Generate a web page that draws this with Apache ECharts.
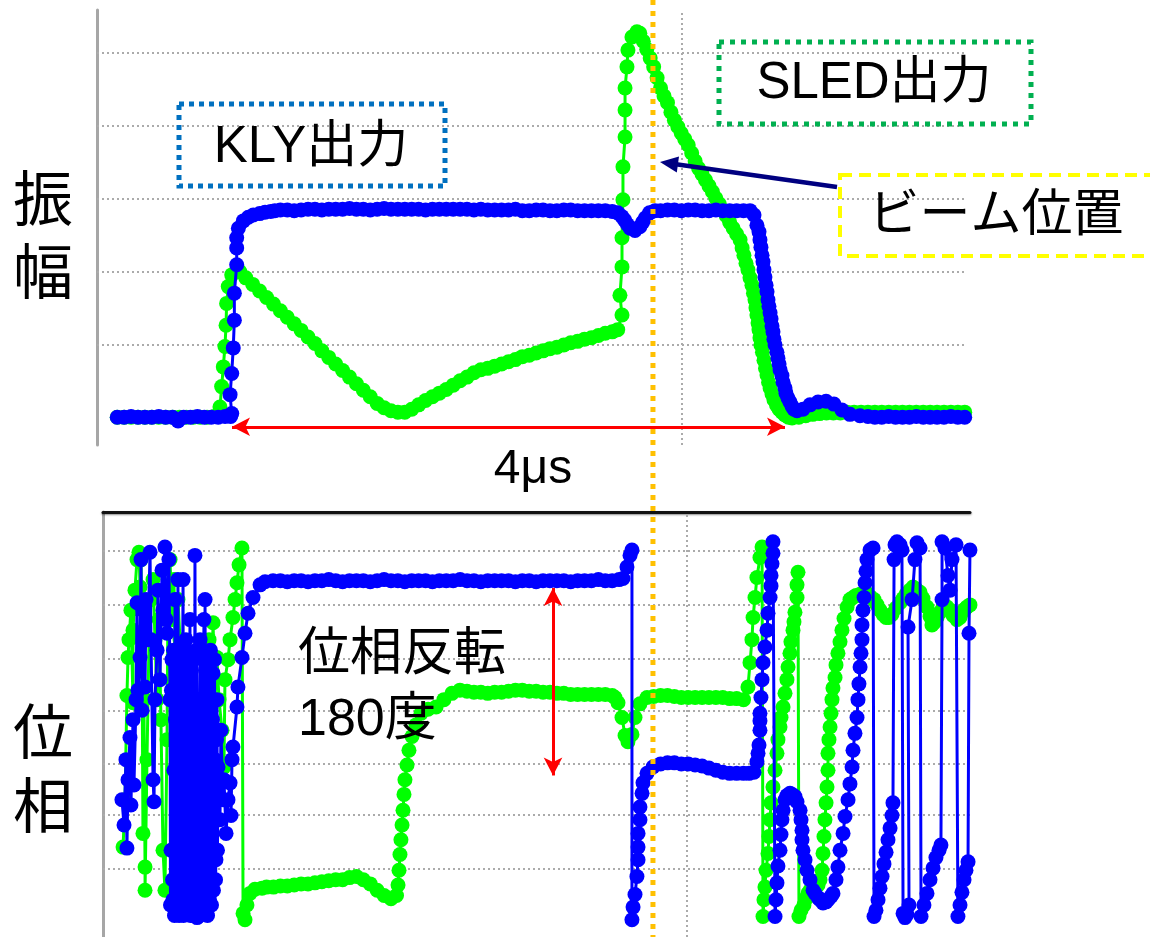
<!DOCTYPE html>
<html>
<head>
<meta charset="utf-8">
<script src="https://cdn.jsdelivr.net/npm/echarts/dist/echarts.min.js"></script>
<style>
  html, body { margin: 0; padding: 0; background: #ffffff; }
  #chart { width: 1150px; height: 937px; }
</style>
</head>
<body>
<div id="chart"></div>
<script>
// Time in microseconds (0 = start of the RF pulse), amplitude in scope divisions, phase in degrees.

// Klystron output amplitude
const klyAmp = [
  [-0.83,0.01],[-0.78,0.01],[-0.73,0.02],[-0.68,0.01],[-0.63,0.01],[-0.58,0.01],[-0.53,0.02],[-0.48,0.01],
  [-0.43,0.01],[-0.39,-0.04],[-0.35,0.01],[-0.30,0.01],[-0.25,0.02],[-0.20,0.01],[-0.15,0.01],[-0.10,0.01],
  [-0.05,0.02],[-0.01,0.02],
  [-0.002,0.06],[-0.014,0.32],[-0.002,0.61],[0.009,0.96],[0.017,1.34],[0.017,1.71],[0.034,2.10],[0.034,2.33],
  [0.034,2.47],[0.046,2.60],[0.082,2.70],[0.118,2.75],[0.154,2.78],[0.20,2.80],[0.239,2.82],[0.28,2.83],[0.31,2.84],
  [0.35,2.85],[0.40,2.85],[0.45,2.84],[0.50,2.85],[0.55,2.86],[0.60,2.86],[0.65,2.85],[0.70,2.86],[0.75,2.86],
  [0.80,2.86],[0.85,2.87],[0.90,2.86],[0.95,2.86],[1.00,2.85],[1.05,2.86],[1.10,2.87],[1.15,2.86],[1.20,2.86],
  [1.25,2.86],[1.30,2.86],[1.35,2.86],[1.40,2.85],[1.45,2.86],[1.50,2.86],[1.55,2.86],[1.60,2.86],[1.65,2.86],
  [1.70,2.86],[1.75,2.85],[1.80,2.86],[1.85,2.85],[1.90,2.85],[1.95,2.85],[2.00,2.85],[2.05,2.86],[2.10,2.84],
  [2.15,2.84],[2.20,2.85],[2.25,2.85],[2.30,2.84],[2.35,2.84],[2.40,2.85],[2.45,2.85],[2.50,2.84],[2.55,2.84],
  [2.60,2.84],[2.65,2.84],[2.70,2.84],[2.75,2.83],
  [2.79,2.81],[2.82,2.76],[2.84,2.71],[2.86,2.65],[2.88,2.60],[2.915,2.57],[2.95,2.62],[2.97,2.68],[2.99,2.74],
  [3.02,2.81],[3.06,2.84],
  [3.10,2.84],[3.15,2.85],[3.20,2.85],[3.25,2.84],[3.30,2.85],[3.35,2.85],[3.40,2.84],[3.45,2.84],[3.50,2.85],
  [3.55,2.84],[3.60,2.84],[3.65,2.84],[3.70,2.84],
  [3.747,2.84],[3.776,2.78],[3.797,2.64],[3.812,2.55],[3.819,2.44],[3.826,2.34],[3.834,2.23],[3.841,2.14],
  [3.848,2.03],[3.855,1.93],[3.863,1.82],[3.870,1.73],[3.877,1.62],[3.884,1.53],[3.892,1.44],[3.899,1.36],
  [3.906,1.26],[3.913,1.18],[3.920,1.08],[3.928,1.00],[3.942,0.90],[3.949,0.82],[3.957,0.74],[3.964,0.66],
  [3.978,0.58],[3.986,0.49],[4.000,0.41],[4.007,0.34],[4.022,0.27],[4.036,0.22],[4.051,0.16],[4.065,0.12],
  [4.087,0.10],[4.130,0.12],[4.181,0.18],[4.239,0.22],[4.297,0.23],[4.354,0.19],[4.412,0.11],[4.470,0.05],
  [4.542,0.03],
  [4.60,0.02],[4.65,0.01],[4.70,0.01],[4.75,0.02],[4.80,0.01],[4.85,0.01],[4.90,0.01],[4.95,0.02],[5.00,0.01],
  [5.05,0.01],[5.10,0.01],[5.15,0.01],[5.20,0.02],[5.25,0.01],[5.30,0.01]
];

// SLED output amplitude
const sledAmp = [
  [-0.83,0.01],[-0.78,0.01],[-0.73,0.01],[-0.68,0.01],[-0.63,0.01],[-0.58,0.01],[-0.53,0.01],[-0.48,0.01],
  [-0.43,0.01],[-0.38,0.01],[-0.33,0.01],[-0.28,0.01],[-0.23,0.01],[-0.18,0.01],[-0.13,0.02],[-0.10,0.03],
  [-0.087,0.15],[-0.075,0.43],[-0.063,0.70],[-0.051,0.98],[-0.043,1.27],[-0.039,1.57],[-0.027,1.80],[-0.002,1.96],
  [0.046,2.03],[0.058,2.00],
  [0.10,1.92],[0.15,1.83],[0.20,1.74],[0.25,1.65],[0.30,1.56],[0.35,1.47],[0.40,1.38],[0.45,1.29],[0.50,1.20],
  [0.55,1.11],[0.60,1.02],[0.65,0.92],[0.70,0.83],[0.75,0.74],[0.80,0.65],[0.85,0.56],[0.90,0.47],[0.95,0.38],
  [1.00,0.29],[1.05,0.20],[1.10,0.14],[1.15,0.10],[1.20,0.08],[1.25,0.08],[1.30,0.12],
  [1.35,0.18],[1.40,0.24],[1.45,0.29],[1.50,0.34],[1.55,0.39],[1.60,0.45],[1.65,0.51],[1.70,0.56],[1.75,0.62],
  [1.80,0.66],[1.85,0.68],[1.90,0.71],[1.95,0.74],[2.00,0.77],[2.05,0.80],[2.10,0.84],[2.15,0.86],[2.20,0.89],
  [2.25,0.92],[2.30,0.95],[2.35,0.97],[2.40,1.00],[2.45,1.03],[2.50,1.05],[2.55,1.08],[2.60,1.10],[2.65,1.13],
  [2.70,1.16],[2.75,1.18],[2.79,1.21],
  [2.821,1.41],[2.806,1.68],[2.821,2.07],[2.821,2.47],[2.828,2.99],[2.828,3.44],[2.843,3.85],[2.843,4.22],
  [2.843,4.52],[2.857,4.81],[2.864,5.04],[2.893,5.22],[2.929,5.29],
  [2.950,5.27],[2.975,5.16],[3.000,5.05],[3.025,4.93],[3.050,4.81],[3.075,4.66],[3.100,4.52],[3.125,4.41],
  [3.150,4.32],[3.175,4.19],[3.200,4.08],[3.225,3.99],[3.250,3.90],[3.275,3.82],[3.300,3.74],[3.325,3.63],
  [3.350,3.52],[3.375,3.42],[3.400,3.34],[3.425,3.26],[3.450,3.18],[3.475,3.10],[3.500,3.01],[3.525,2.93],
  [3.550,2.85],[3.575,2.77],[3.600,2.68],[3.625,2.60],[3.650,2.52],[3.675,2.44],[3.690,2.33],[3.703,2.23],
  [3.718,2.12],[3.732,2.03],[3.747,1.92],[3.761,1.82],[3.772,1.71],[3.783,1.62],[3.790,1.51],[3.797,1.41],
  [3.805,1.30],[3.812,1.21],[3.819,1.10],[3.826,1.00],[3.837,0.90],[3.848,0.79],[3.859,0.68],[3.870,0.59],
  [3.881,0.49],[3.892,0.41],[3.906,0.33],[3.920,0.25],[3.938,0.18],[3.957,0.12],[3.978,0.08],[3.999,0.04],
  [4.025,0.01],[4.051,0.00],
  [4.10,0.01],[4.15,0.03],[4.20,0.05],[4.25,0.06],[4.30,0.07],[4.35,0.07],[4.40,0.07],[4.45,0.08],
  [4.50,0.08],[4.55,0.08],[4.60,0.08],[4.65,0.08],[4.70,0.08],[4.75,0.08],[4.80,0.08],[4.85,0.08],[4.90,0.08],
  [4.95,0.08],[5.00,0.08],[5.05,0.08],[5.10,0.08],[5.15,0.08],[5.20,0.08],[5.25,0.08],[5.30,0.08]
];

// Klystron output phase
const klyPhase = [
  [-0.796,-65],[-0.781,-89],[-0.767,-27],[-0.760,-111],[-0.752,-46],[-0.738,-6],[-0.731,-70],[-0.716,11],
  [-0.709,-51],[-0.694,30],[-0.687,122],[-0.680,39],[-0.665,70],[-0.658,163],[-0.651,20],[-0.644,115],
  [-0.629,42],[-0.622,125],[-0.608,87],[-0.593,170],[-0.586,87],[-0.571,-46],[-0.564,-67],[-0.557,30],
  [-0.542,77],[-0.535,134],[-0.521,49],[-0.506,153],[-0.499,115],[-0.485,175],[-0.477,106],[-0.470,93],
  [-0.456,163],
  [-0.448,30],[-0.445,-165],[-0.441,-113],[-0.438,39],[-0.434,68],[-0.430,-141],[-0.427,-160],[-0.423,77],
  [-0.420,-37],[-0.416,-175],[-0.412,125],[-0.409,11],[-0.405,-141],[-0.401,68],[-0.398,30],[-0.394,-165],
  [-0.391,144],[-0.387,-27],[-0.383,-175],[-0.380,49],[-0.376,-84],[-0.373,-160],[-0.369,77],[-0.365,-132],
  [-0.362,-160],[-0.358,39],[-0.354,144],[-0.351,-175],[-0.347,-27],[-0.344,77],[-0.340,-170],[-0.336,-46],
  [-0.333,87],[-0.329,-170],[-0.325,-122],[-0.322,68],[-0.318,30],[-0.315,-141],[-0.311,-165],[-0.307,-8],
  [-0.304,106],[-0.300,-175],[-0.297,-103],[-0.293,58],[-0.289,-8],[-0.286,-151],[-0.282,-175],[-0.279,30],
  [-0.275,68],[-0.271,-165],[-0.268,167],[-0.264,-46],[-0.260,-151],[-0.257,77],[-0.253,-177],[-0.250,-122],
  [-0.246,30],[-0.242,-176],[-0.239,-141],[-0.235,30],[-0.231,87],[-0.228,-165],[-0.224,-122],[-0.221,77],
  [-0.217,-27],[-0.213,-103],[-0.210,-165],[-0.206,30],[-0.203,106],[-0.199,-160],[-0.195,125],[-0.192,-27],
  [-0.188,-141],[-0.184,68],[-0.181,11],[-0.177,-175],[-0.174,-160],[-0.170,-46],[-0.166,68],[-0.163,-160],
  [-0.159,-103],[-0.156,77],[-0.152,30],[-0.148,-165],[-0.145,-141],[-0.141,11],[-0.137,55],[-0.134,-151],
  [-0.130,-84],[-0.127,68],[-0.123,-27],[-0.119,-141],[-0.116,-122],[-0.112,-8],[-0.109,30],[-0.105,-113],
  [-0.101,-34],
  [-0.087,-84],[-0.080,1],[-0.065,-65],[-0.058,-46],[-0.043,-97],[-0.029,-65],
  [-0.014,-49],[-0.007,-80],[0,-27],[0.007,-15],
  [0.036,23],[0.043,42],[0.072,70],[0.094,93],[0.116,112],[0.152,127],[0.203,139],[0.239,142],[0.297,143],
  [0.35,143],[0.40,142],[0.45,143],[0.50,143],[0.55,142],[0.60,143],[0.65,143],[0.70,144],[0.75,143],
  [0.80,142],[0.85,143],[0.90,143],[0.95,143],[1.00,142],[1.05,143],[1.10,144],[1.15,143],[1.20,143],
  [1.25,142],[1.30,143],[1.35,143],[1.40,143],[1.45,142],[1.50,143],[1.55,143],[1.60,143],[1.65,144],
  [1.70,143],[1.75,143],[1.80,142],[1.85,143],[1.90,143],[1.95,143],[2.00,143],[2.05,142],[2.10,143],
  [2.15,143],[2.20,142],[2.25,143],[2.30,143],[2.35,143],[2.40,143],[2.45,142],[2.50,143],[2.55,143],
  [2.60,143],[2.65,144],[2.70,143],[2.75,143],[2.80,144],
  [2.828,145],[2.857,156],[2.879,167],[2.893,172],[2.893,-179],[2.901,-167],[2.915,-155],[2.929,-138],
  [2.937,-122],[2.937,-110],[2.937,-97],[2.951,-84],[2.951,-72],[2.966,-59],[2.973,-49],[3.002,-40],[3.045,-34],
  [3.10,-31],[3.15,-30],[3.20,-30],[3.25,-31],[3.30,-31],[3.35,-32],[3.40,-33],[3.45,-35],[3.50,-37],
  [3.55,-39],[3.60,-40],[3.65,-40],[3.70,-40],[3.74,-40],
  [3.776,-39],[3.797,-29],[3.805,-21],[3.812,-13],[3.819,1],[3.819,10],[3.819,17],[3.826,32],[3.834,49],
  [3.841,65],[3.855,80],[3.870,96],[3.877,112],[3.892,127],[3.899,138],[3.899,148],[3.906,159],[3.913,169],
  [3.913,180],
  [3.928,-176],[3.935,-160],[3.942,-144],[3.949,-128],[3.964,-113],[3.971,-98],[3.978,-84],[3.986,-75],
  [4.000,-65],[4.014,-61],[4.036,-59],[4.051,-60],[4.072,-62],[4.087,-67],[4.109,-75],[4.116,-84],[4.123,-94],
  [4.123,-103],[4.130,-113],[4.145,-122],[4.159,-132],[4.181,-141],[4.203,-151],[4.217,-154],[4.239,-158],
  [4.253,-160],[4.275,-163],[4.297,-162],[4.311,-160],[4.333,-157],[4.347,-154],[4.369,-141],[4.383,-129],
  [4.398,-113],[4.420,-97],[4.434,-81],[4.456,-65],[4.470,-50],[4.485,-34],[4.492,-18],[4.506,-2],[4.521,13],
  [4.528,30],[4.535,45],[4.543,61],[4.550,74],[4.557,87],[4.557,101],[4.564,115],[4.572,127],[4.579,141],
  [4.586,152],[4.593,163],[4.615,172],[4.637,174],
  [4.644,-176],[4.658,-170],[4.673,-160],[4.687,-149],[4.702,-138],[4.716,-126],[4.731,-115],[4.745,-103],
  [4.760,-92],[4.774,-80],[4.781,-68],[4.789,163],[4.796,177],[4.810,180],[4.832,177],[4.846,172],
  [4.854,-173],[4.868,-177],[4.882,-174],[4.897,-165],[4.890,99],[4.919,125],[4.940,163],[4.955,179],
  [4.977,174],[4.984,-176],[5.005,-165],[5.027,-154],[5.049,-141],[5.071,-130],[5.092,-120],[5.114,-113],
  [5.128,-108],[5.136,125],[5.136,180],[5.157,174],[5.179,148],[5.194,134],[5.208,163],[5.237,177],
  [5.251,-176],[5.266,-165],[5.280,-153],[5.295,-141],[5.309,-132],[5.324,-124],[5.331,93],[5.338,172]
];

// SLED output phase
const sledPhase = [
  [-0.788,-110],[-0.774,-65],[-0.760,34],[-0.752,70],[-0.745,87],[-0.731,115],[-0.716,27],[-0.716,96],
  [-0.702,134],[-0.687,163],[-0.673,170],[-0.665,137],[-0.658,163],[-0.651,87],[-0.644,-97],[-0.637,30],
  [-0.629,-129],[-0.629,-151],[-0.615,-27],[-0.600,87],[-0.586,125],[-0.571,144],[-0.557,87],[-0.542,30],
  [-0.528,106],[-0.514,11],[-0.499,-113],[-0.485,-151],[-0.470,-8],[-0.463,125],[-0.448,163],[-0.434,106],
  [-0.420,144],[-0.405,30],[-0.391,125],[-0.376,87],[-0.362,30],[-0.340,77],[-0.318,30],[-0.304,-18],
  [-0.289,-65],[-0.268,-27],[-0.246,-84],[-0.231,-46],[-0.210,11],[-0.188,68],[-0.166,87],[-0.145,58],
  [-0.137,103],[-0.123,30],[-0.109,70],[-0.094,30],[-0.072,1],[-0.058,-34],[-0.051,49],[-0.029,68],
  [-0.014,87],[0.007,108],[0.022,125],[0.036,141],[0.051,158],[0.072,174],
  [0.080,-173],[0.094,-179],[0.108,-165],[0.130,-154],[0.166,-150],[0.217,-149],
  [0.25,-148],[0.30,-148],[0.35,-147],[0.40,-147],[0.45,-146],[0.50,-145],[0.55,-145],[0.60,-144],
  [0.65,-143],[0.70,-142],[0.75,-141],[0.80,-141],[0.85,-139],[0.90,-138],[0.95,-141],[1.00,-145],
  [1.05,-151],[1.10,-156],[1.15,-159],[1.19,-156],
  [1.201,-146],[1.208,-132],[1.215,-117],[1.222,-103],[1.230,-89],[1.237,-75],[1.244,-60],[1.251,-46],
  [1.266,-32],[1.280,-18],[1.302,-5],[1.331,6],[1.367,17],[1.418,21],[1.476,23],[1.533,30],[1.591,36],[1.649,39],
  [1.70,38],[1.75,37],[1.80,37],[1.85,36],[1.90,37],[1.95,37],[2.00,38],[2.05,39],[2.10,39],[2.15,38],
  [2.20,38],[2.25,37],[2.30,37],[2.35,36],[2.40,36],[2.45,35],[2.50,35],[2.55,35],[2.60,35],[2.65,35],
  [2.70,35],[2.75,34],
  [2.770,32],[2.792,27],[2.821,13],[2.843,-4],[2.864,-10],[2.893,-3],[2.915,13],[2.951,26],[3.002,32],
  [3.05,33],[3.10,34],[3.15,34],[3.20,33],[3.25,32],[3.30,32],[3.35,32],[3.40,32],[3.45,32],[3.50,32],
  [3.55,32],[3.60,31],[3.65,31],[3.70,30],
  [3.732,42],[3.747,65],[3.761,87],[3.769,108],[3.783,127],[3.797,146],[3.819,165],[3.834,175],
  [3.841,-176],[3.848,-160],[3.855,-148],[3.863,-132],[3.877,-116],[3.884,-100],[3.892,-84],[3.899,-68],
  [3.913,-53],[3.928,-37],[3.942,-21],[3.949,-8],[3.964,4],[3.971,13],[3.986,23],[4.000,36],[4.014,49],
  [4.022,61],[4.036,74],[4.043,85],[4.058,96],[4.065,104],[4.072,113],[4.087,127],[4.087,139],[4.094,151],
  [4.101,-176],[4.116,-170],[4.137,-165],[4.152,-159],[4.166,-154],[4.181,-151],[4.203,-149],[4.239,-146],
  [4.253,-141],[4.268,-132],[4.275,-116],[4.282,-100],[4.289,-84],[4.297,-68],[4.304,-53],[4.311,-37],
  [4.311,-21],[4.318,-8],[4.326,4],[4.333,17],[4.340,30],[4.347,41],[4.362,51],[4.369,63],[4.383,74],
  [4.398,85],[4.412,96],[4.427,107],[4.449,118],[4.470,125],[4.492,127],[4.514,129],[4.543,130],[4.564,131],
  [4.593,131],[4.615,128],[4.644,125],[4.666,120],[4.687,115],[4.709,111],[4.731,108],[4.752,108],[4.774,111],
  [4.803,117],[4.832,122],[4.854,126],[4.875,130],[4.904,134],[4.926,137],[4.948,135],[4.977,132],[4.998,126],
  [5.027,118],[5.049,109],[5.063,101],[5.078,103],[5.100,108],[5.121,113],[5.143,118],[5.172,118],[5.194,115],
  [5.215,110],[5.244,106],[5.266,108],[5.280,113],[5.302,116],[5.316,118],[5.338,120]
];

// Scope graticule levels
const ampGridLevels = [1, 2, 3, 4, 5];
const ampGridTime = 3.255;
const phaseGridLevels = [171.1, 119.9, 68.6, 19.2, -31.1, -79.6, -130.9];
const phaseGridTime = 3.291;

// Annotations
const pulseSpan = [0, 4];          // 4 μs pulse width
const pulseArrowLevel = -0.12;
const beamTime = 3.045;            // beam arrival
const reversalTime = 2.322;
const reversalSpan = [136, -42];   // 180 degree phase flip

const KLY_COLOR = '#0000ff';
const SLED_COLOR = '#00ff00';
const GRID_STYLE = { color: '#ababab', width: 2, type: [2, 3] };
const LATIN_JP = '"Liberation Sans", "Noto Sans CJK JP", sans-serif';

function trace(data, color, axis, z) {
  return {
    type: 'line', data: data, xAxisIndex: axis, yAxisIndex: axis, z: z,
    symbol: 'circle', symbolSize: 15, showSymbol: true, showAllSymbol: true,
    lineStyle: { color: color, width: 3 },
    itemStyle: { color: color, borderWidth: 0 },
    silent: true, animation: false, clip: true,
    emphasis: { disabled: true }
  };
}

function graticule(axis, levels, time) {
  return {
    type: 'line', data: [], xAxisIndex: axis, yAxisIndex: axis, silent: true,
    markLine: {
      silent: true, z: 1, animation: false, symbol: ['none', 'none'],
      label: { show: false }, emphasis: { disabled: true },
      lineStyle: GRID_STYLE,
      data: levels.map(v => ({ yAxis: v })).concat([{ xAxis: time }])
    }
  };
}

function doubleArrow(axis, from, to) {
  return {
    type: 'line', data: [], xAxisIndex: axis, yAxisIndex: axis, silent: true,
    markLine: {
      silent: true, z: 6, animation: false, symbol: ['arrow', 'arrow'], symbolSize: [14, 18],
      label: { show: false }, emphasis: { disabled: true },
      lineStyle: { color: '#ff0000', width: 3, type: 'solid' },
      data: [[{ coord: from }, { coord: to }]]
    }
  };
}

const chart = echarts.init(document.getElementById('chart'), null, { renderer: 'canvas' });

chart.setOption({
  backgroundColor: '#ffffff',
  animation: false,
  grid: [
    { left: 97, top: 10, width: 870, height: 435, containLabel: false, outerBoundsMode: 'none' },
    { left: 103, top: 512, width: 867, height: 425, containLabel: false, outerBoundsMode: 'none' }
  ],
  xAxis: [
    { type: 'value', gridIndex: 0, min: -0.9765, max: 5.3165, show: false },
    { type: 'value', gridIndex: 1, min: -0.9331, max: 5.3382, position: 'top',
      axisLine: { show: true, onZero: false,
        lineStyle: { color: '#111111', width: 3, shadowColor: 'rgba(0,0,0,0.45)', shadowBlur: 2, shadowOffsetY: 1 } },
      axisTick: { show: false }, axisLabel: { show: false }, splitLine: { show: false } }
  ],
  yAxis: [
    { type: 'value', gridIndex: 0, min: -0.370, max: 5.589,
      axisLine: { show: true, onZero: false, lineStyle: { color: '#a6a6a6', width: 3 } },
      axisTick: { show: false }, axisLabel: { show: false }, splitLine: { show: false } },
    { type: 'value', gridIndex: 1, min: -195.4, max: 208.2,
      axisLine: { show: true, onZero: false, lineStyle: { color: '#a6a6a6', width: 3 } },
      axisTick: { show: false }, axisLabel: { show: false }, splitLine: { show: false } }
  ],
  series: [
    graticule(0, ampGridLevels, ampGridTime),
    graticule(1, phaseGridLevels, phaseGridTime),
    trace(sledAmp, SLED_COLOR, 0, 3),
    trace(klyAmp, KLY_COLOR, 0, 4),
    trace(sledPhase, SLED_COLOR, 1, 3),
    trace(klyPhase, KLY_COLOR, 1, 4),
    doubleArrow(0, [pulseSpan[0], pulseArrowLevel], [pulseSpan[1], pulseArrowLevel]),
    doubleArrow(1, [reversalTime, reversalSpan[0]], [reversalTime, reversalSpan[1]])
  ]
});

// Beam-position marker and text annotations
const beamX = chart.convertToPixel({ xAxisIndex: 0 }, beamTime);

function label(text, x, y, size, extra) {
  return {
    type: 'text', z: 60, silent: true,
    style: Object.assign({
      text: text, x: x, y: y, fill: '#000000',
      font: size + 'px ' + LATIN_JP,
      textAlign: 'center', textVerticalAlign: 'middle',
      align: 'center', verticalAlign: 'middle'
    }, extra || {})
  };
}

chart.setOption({
  graphic: [
    { type: 'line', z: 50, silent: true,
      shape: { x1: beamX, y1: 0, x2: beamX, y2: 937 },
      style: { stroke: '#ffc000', lineWidth: 5, lineDash: [5, 6] } },

    { type: 'rect', z: 55, silent: true,
      shape: { x: 179, y: 104, width: 266, height: 82 },
      style: { fill: null, stroke: '#0070c0', lineWidth: 5, lineDash: [5, 5] } },
    label('KLY出力', 311, 148, 51),

    { type: 'rect', z: 55, silent: true,
      shape: { x: 719, y: 42, width: 312, height: 82 },
      style: { fill: null, stroke: '#00b050', lineWidth: 5, lineDash: [5, 6] } },
    label('SLED出力', 874, 84, 51),

    { type: 'rect', z: 55, silent: true,
      shape: { x: 840, y: 175, width: 330, height: 81 },
      style: { fill: null, stroke: '#ffff00', lineWidth: 4, lineDash: [12, 7] } },
    label('ビーム位置', 996, 217, 51),

    { type: 'line', z: 56, silent: true,
      shape: { x1: 837, y1: 187, x2: 676, y2: 164.3 },
      style: { stroke: '#000080', lineWidth: 4.5 } },
    { type: 'polygon', z: 56, silent: true,
      shape: { points: [[660, 162], [679, 156.5], [676.8, 172.5]] },
      style: { fill: '#000080' } },

    label('4μs', 533, 470, 48),
    label('位相反転\n180度', 298, 688, 52,
      { textAlign: 'left', align: 'left', lineHeight: 65 }),

    label('振\n幅', 43, 235, 60, { lineHeight: 73, font: '60px "Noto Sans CJK JP"' }),
    label('位\n相', 43, 768, 60, { lineHeight: 74, font: '60px "Noto Sans CJK JP"' })
  ]
});
</script>
</body>
</html>
